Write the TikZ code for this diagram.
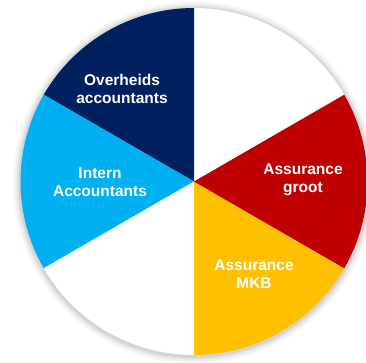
\documentclass[tikz,border=0pt]{standalone}
\usepackage{fontspec}
\setmainfont{Liberation Sans}
\definecolor{navyblue}{RGB}{0,32,96}
\definecolor{skyblue}{RGB}{0,176,240}
\definecolor{darkred}{RGB}{192,0,0}
\definecolor{amber}{RGB}{255,192,0}
\begin{document}
\begin{tikzpicture}[x=1pt,y=1pt,
    slicetext/.style={text=white,font=\bfseries\fontsize{15.5}{17.5}\selectfont,align=center}]
  \useasboundingbox (-194,-180.5) rectangle (172,181.5);
  % soft shadow
  \fill[black,opacity=0.03] (0,-1) circle (181);
  \fill[black,opacity=0.04] (0,-1) circle (179);
  \fill[black,opacity=0.05] (0,-1) circle (177);
  \fill[black,opacity=0.06] (0,-1) circle (175.5);
  % slices
  \fill[white] (0,0) -- (30:173.5) arc (30:90:173.5) -- cycle;
  \fill[navyblue] (0,0) -- (90:173.5) arc (90:150:173.5) -- cycle;
  \fill[skyblue] (0,0) -- (150:173.5) arc (150:210:173.5) -- cycle;
  \fill[white] (0,0) -- (210:173.5) arc (210:270:173.5) -- cycle;
  \fill[amber] (0,0) -- (270:173.5) arc (270:330:173.5) -- cycle;
  \fill[darkred] (0,0) -- (330:173.5) arc (330:390:173.5) -- cycle;
  \draw
    (-72,92.5) node[slicetext] (overheids) {Overheids\\accountants}
    (-94,-0.5) node[slicetext] (intern) {Intern\\Accountants}
    (109,1.5) node[slicetext] (groot) {Assurance\\groot}
    (60,-92.5) node[slicetext] (mkb) {Assurance\\MKB};
\end{tikzpicture}
\end{document}
